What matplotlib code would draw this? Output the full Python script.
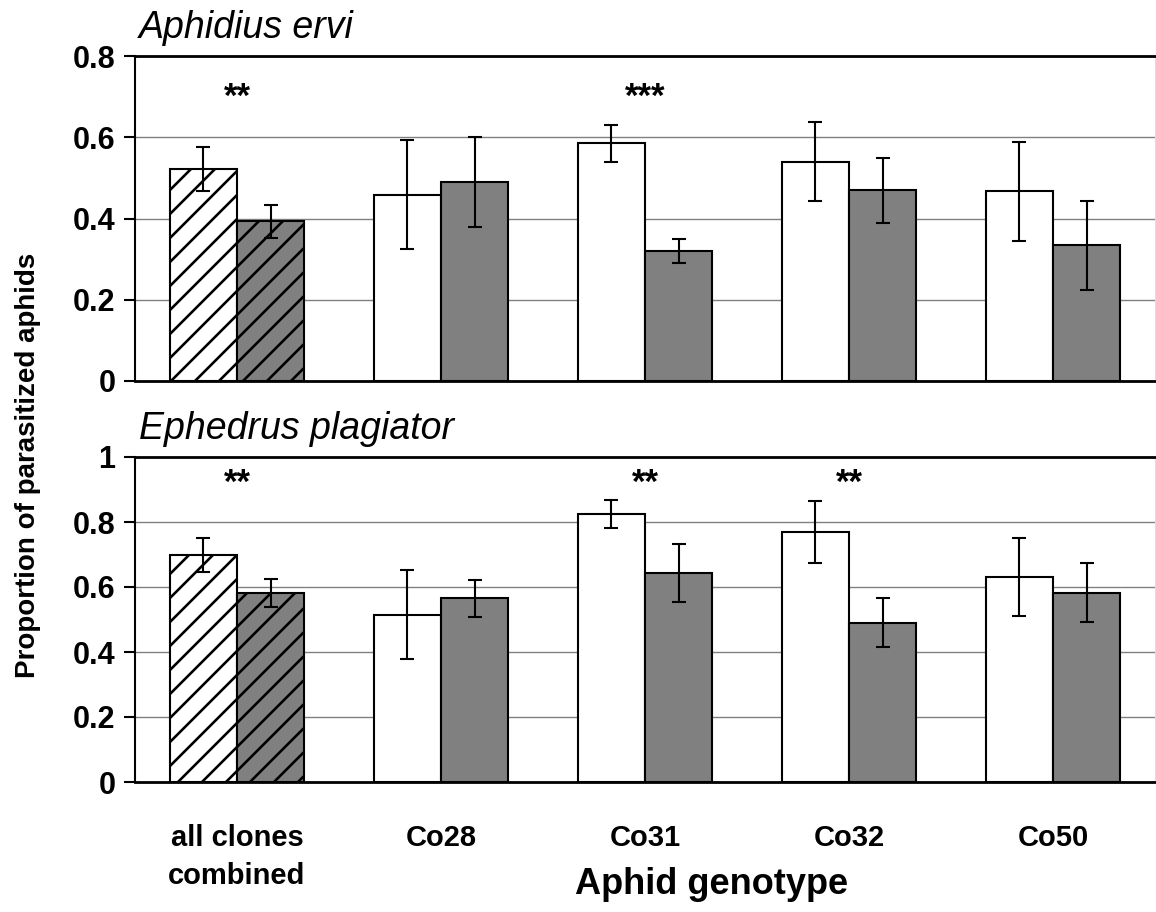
import matplotlib
matplotlib.use("Agg")
import matplotlib.pyplot as plt
import numpy as np

# Render at dpi=72 so that hatch spacing matches the reference;
# all point sizes are scaled by P so pixel sizes stay the same.
DPI = 72
P = 100.0 / DPI

plt.rcParams['font.family'] = ['Liberation Sans', 'DejaVu Sans']
plt.rcParams['hatch.linewidth'] = 2.6

categories = ["all clones\ncombined", "Co28", "Co31", "Co32", "Co50"]

# Aphidius ervi
ervi_white = [0.521, 0.459, 0.585, 0.540, 0.467]
ervi_white_err = [0.054, 0.135, 0.045, 0.097, 0.122]
ervi_gray = [0.393, 0.490, 0.320, 0.470, 0.334]
ervi_gray_err = [0.040, 0.110, 0.030, 0.080, 0.110]
ervi_sig = ["**", "", "***", "", ""]

# Ephedrus plagiator
eph_white = [0.699, 0.515, 0.825, 0.770, 0.630]
eph_white_err = [0.053, 0.136, 0.043, 0.095, 0.120]
eph_gray = [0.583, 0.565, 0.643, 0.490, 0.583]
eph_gray_err = [0.043, 0.058, 0.088, 0.075, 0.092]
eph_sig = ["**", "", "**", "**", ""]

fig = plt.figure(figsize=(1156 / DPI, 912 / DPI), dpi=DPI)
ax1 = fig.add_axes([135/1156, 1-381/912, 1020/1156, 325/912])
ax2 = fig.add_axes([135/1156, 1-782/912, 1020/1156, 325/912])

x = np.arange(len(categories))
w = 0.33

def draw(ax, white, werr, gray, gerr, sig, ymax, yticks, ylabels, sig_y, title):
    for i in range(len(categories)):
        hatch = '/' if i == 0 else None
        ax.bar(x[i] - w/2, white[i], w, color='white', edgecolor='black',
               linewidth=1.5*P, hatch=hatch, zorder=3)
        ax.bar(x[i] + w/2, gray[i], w, color='#808080', edgecolor='black',
               linewidth=1.5*P, hatch=hatch, zorder=3)
    ax.errorbar(x - w/2, white, yerr=werr, fmt='none', ecolor='black',
                elinewidth=1.5*P, capsize=5*P, capthick=1.5*P, zorder=4)
    ax.errorbar(x + w/2, gray, yerr=gerr, fmt='none', ecolor='black',
                elinewidth=1.5*P, capsize=5*P, capthick=1.5*P, zorder=4)
    for i, s in enumerate(sig):
        if s:
            ax.text(x[i], sig_y, s, ha='center', va='baseline', fontsize=25*P,
                    fontweight='bold')
    ax.set_xlim(-0.5, 4.5)
    ax.set_ylim(0, ymax)
    ax.set_yticks(yticks)
    ax.set_yticklabels(ylabels, fontsize=22*P, fontweight='bold')
    ax.yaxis.grid(True, color='#808080', linewidth=1.0*P, zorder=0)
    ax.set_axisbelow(True)
    ax.tick_params(axis='y', direction='out', length=8*P, width=1.5*P, pad=6*P)
    for sp in ['left', 'bottom', 'top']:
        ax.spines[sp].set_linewidth(2*P)
        ax.spines[sp].set_color('black')
    ax.spines['left'].set_linewidth(1.5*P)
    ax.spines['right'].set_color('#dddddd')
    ax.spines['right'].set_linewidth(0.8*P)
    ax.text(0.004, 1.03, title, transform=ax.transAxes, fontsize=27*P,
            fontstyle='italic', ha='left', va='bottom')

draw(ax1, ervi_white, ervi_white_err, ervi_gray, ervi_gray_err, ervi_sig,
     0.8, [0, 0.2, 0.4, 0.6, 0.8], ["0", "0.2", "0.4", "0.6", "0.8"], 0.675, "Aphidius ervi")
draw(ax2, eph_white, eph_white_err, eph_gray, eph_gray_err, eph_sig,
     1.0, [0, 0.2, 0.4, 0.6, 0.8, 1.0], ["0", "0.2", "0.4", "0.6", "0.8", "1"], 0.89, "Ephedrus plagiator")

ax1.set_xticks([])
ax2.set_xticks(x)
ax2.set_xticklabels(categories, fontsize=21*P, fontweight='bold', linespacing=1.45)
ax2.tick_params(axis='x', length=0, pad=30*P)

fig.text(712/1156, 1-885/912, "Aphid genotype", fontsize=26*P, fontweight='bold',
         ha='center', va='center')
fig.text(28/1156, 1-465/912, "Proportion of parasitized aphids", fontsize=20*P,
         fontweight='bold', rotation=90, ha='center', va='center')

fig.savefig("out.png", dpi=DPI)
